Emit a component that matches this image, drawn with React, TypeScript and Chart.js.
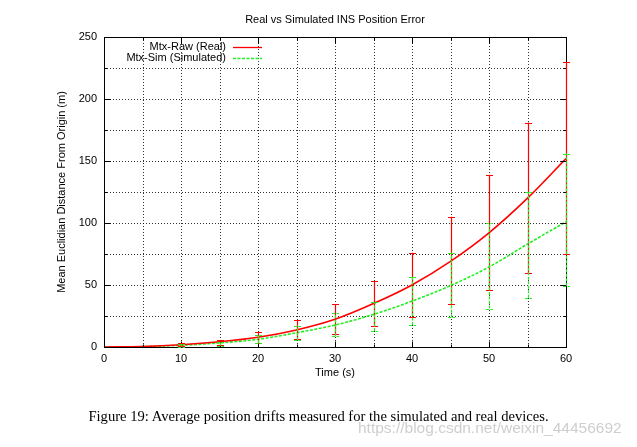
import React, { useEffect, useRef } from "react";
import { Chart, registerables } from "chart.js";

Chart.register(...registerables);

// ---- data ----
const times = [0, 5, 10, 15, 20, 25, 30, 35, 40, 45, 50, 55, 60];
const realMean = [0, 0.4, 1.8, 4.2, 7.8, 13.7, 22.3, 35, 50, 69, 92, 120, 152];
const simMean = [0, 0.3, 1.4, 3.3, 6.2, 11.5, 17.7, 26.3, 37, 49.5, 64.5, 83, 101];

const errTimes = [10, 15, 20, 25, 30, 35, 40, 45, 50, 55, 60];
const realLow = [0.5, 1.8, 3.2, 6.2, 10.2, 16.7, 24.5, 34.7, 46, 59.4, 74.7];
const realHigh = [3, 5.3, 12, 21.5, 34.4, 53.2, 76, 105, 139, 181, 229.5];
const simLow = [0.4, 1, 3, 5.4, 8.6, 12.9, 17.7, 24, 31, 39.8, 49.4];
const simHigh = [2.5, 4, 9.4, 17.2, 27.1, 36, 56.5, 76, 100, 125, 156];

const xMajorTicks = [0, 10, 20, 30, 40, 50, 60];
const xMinorTicks = [5, 15, 25, 35, 45, 55];
const yMajorTicks = [0, 50, 100, 150, 200, 250];
const yMinorTicks = [25, 75, 125, 175, 225];

const seriesLabels = ["Mtx-Raw (Real)", "Mtx-Sim (Simulated)"];
const chartTitle = "Real vs Simulated INS Position Error";
const xTitle = "Time (s)";
const yTitle = "Mean Euclidian Distance From Origin (m)";
const caption = "Figure 19: Average position drifts measured for the simulated and real devices.";
const watermark = "https://blog.csdn.net/weixin_44456692";

const RED = "#ff0000";
const GREEN = "#22ee22";
const GREEN_DASH = [3, 1.5];
const FONT = "'Liberation Sans', Arial, sans-serif";

const gnuplotPlugin = {
  id: "gnuplotPlugin",
  beforeDatasetsDraw(chart: any) {
    const { ctx, chartArea: a, scales } = chart;
    const x = scales.x;
    const y = scales.y;
    ctx.save();
    // title centred over the plot area
    ctx.font = `11px ${FONT}`;
    ctx.fillStyle = "#000";
    ctx.textAlign = "center";
    ctx.textBaseline = "middle";
    ctx.fillText(chartTitle, (a.left + a.right) / 2, 20);

    ctx.strokeStyle = "rgba(0,0,0,0.8)";
    ctx.lineWidth = 1;
    ctx.setLineDash([1, 2]);
    const xs = [...xMajorTicks, ...xMinorTicks].filter((v) => v > 0 && v < 60);
    xs.forEach((v) => {
      const px = Math.round(x.getPixelForValue(v)) + 0.5;
      ctx.beginPath();
      ctx.moveTo(px, a.top);
      ctx.lineTo(px, a.bottom);
      ctx.stroke();
    });
    const ys = [...yMajorTicks, ...yMinorTicks].filter((v) => v > 0 && v < 250);
    ys.forEach((v) => {
      const py = Math.round(y.getPixelForValue(v)) + 0.5;
      ctx.beginPath();
      ctx.moveTo(a.left, py);
      ctx.lineTo(a.right, py);
      ctx.stroke();
    });
    ctx.restore();
  },
  afterDatasetsDraw(chart: any) {
    const { ctx, chartArea: a, scales } = chart;
    const x = scales.x;
    const y = scales.y;

    // border + inward ticks
    ctx.save();
    ctx.strokeStyle = "#000";
    ctx.lineWidth = 1;
    ctx.setLineDash([]);
    const L = Math.round(a.left) + 0.5;
    const R = Math.round(a.right) + 0.5;
    const T = Math.round(a.top) + 0.5;
    const B = Math.round(a.bottom) + 0.5;
    ctx.strokeRect(L, T, R - L, B - T);
    ctx.beginPath();
    const tickX = (vals: number[], len: number) =>
      vals.forEach((v) => {
        const px = Math.round(x.getPixelForValue(v)) + 0.5;
        ctx.moveTo(px, B);
        ctx.lineTo(px, B - len);
        ctx.moveTo(px, T);
        ctx.lineTo(px, T + len);
      });
    const tickY = (vals: number[], len: number) =>
      vals.forEach((v) => {
        const py = Math.round(y.getPixelForValue(v)) + 0.5;
        ctx.moveTo(L, py);
        ctx.lineTo(L + len, py);
        ctx.moveTo(R, py);
        ctx.lineTo(R - len, py);
      });
    tickX(xMajorTicks, 6);
    tickX(xMinorTicks, 3);
    tickY(yMajorTicks, 6);
    tickY(yMinorTicks, 3);
    ctx.stroke();
    ctx.restore();

    const drawErr = (lo: number[], hi: number[], color: string, dash: number[]) => {
      ctx.save();
      ctx.strokeStyle = color;
      ctx.lineWidth = 1.2;
      ctx.setLineDash(dash);
      errTimes.forEach((t, i) => {
        const px = Math.round(x.getPixelForValue(t)) + 0.5;
        const p1 = y.getPixelForValue(lo[i]);
        const p2 = y.getPixelForValue(hi[i]);
        ctx.beginPath();
        ctx.moveTo(px, p1);
        ctx.lineTo(px, p2);
        ctx.moveTo(px - 3.5, Math.round(p1) + 0.5);
        ctx.lineTo(px + 3.5, Math.round(p1) + 0.5);
        ctx.moveTo(px - 3.5, Math.round(p2) + 0.5);
        ctx.lineTo(px + 3.5, Math.round(p2) + 0.5);
        ctx.stroke();
      });
      ctx.restore();
    };
    drawErr(realLow, realHigh, RED, []);
    drawErr(simLow, simHigh, GREEN, GREEN_DASH);

    // legend (gnuplot style, inside top-left)
    ctx.save();
    ctx.font = `11px ${FONT}`;
    ctx.fillStyle = "#000";
    ctx.textAlign = "right";
    ctx.textBaseline = "middle";
    const textRight = a.left + 122;
    const sx1 = a.left + 129;
    const sx2 = a.left + 158;
    const row0 = a.top + 10;
    const rowH = 11;
    [RED, GREEN].forEach((c, i) => {
      const yy = row0 + i * rowH;
      ctx.fillText(seriesLabels[i], textRight, yy);
      ctx.strokeStyle = c;
      ctx.lineWidth = 1.3;
      ctx.setLineDash(i === 0 ? [] : GREEN_DASH);
      ctx.beginPath();
      ctx.moveTo(sx1, Math.round(yy) + 0.5);
      ctx.lineTo(sx2, Math.round(yy) + 0.5);
      ctx.stroke();
    });
    ctx.restore();
  },
};

export default function App() {
  const canvasRef = useRef<HTMLCanvasElement | null>(null);

  useEffect(() => {
    document.body.style.margin = "0";
    const canvas = canvasRef.current;
    if (!canvas) return;
    Chart.defaults.font.family = FONT;
    Chart.defaults.color = "#000";
    const chart = new Chart(canvas, {
      type: "line",
      data: {
        datasets: [
          {
            label: seriesLabels[0],
            data: times.map((t, i) => ({ x: t, y: realMean[i] })),
            borderColor: RED,
            borderWidth: 1.6,
            pointRadius: 0,
            fill: false,
            cubicInterpolationMode: "monotone",
          },
          {
            label: seriesLabels[1],
            data: times.map((t, i) => ({ x: t, y: simMean[i] })),
            borderColor: GREEN,
            borderWidth: 1.6,
            borderDash: GREEN_DASH,
            pointRadius: 0,
            fill: false,
            cubicInterpolationMode: "monotone",
          },
        ],
      },
      options: {
        animation: false,
        responsive: true,
        maintainAspectRatio: false,
        layout: { padding: { left: 0, right: 71, top: 37, bottom: 60 } },
        plugins: {
          legend: { display: false },
          tooltip: { enabled: false },
          title: { display: false },
        },
        scales: {
          x: {
            type: "linear",
            min: 0,
            max: 60,
            afterFit: (s: any) => {
              s.height = 40;
            },
            ticks: { stepSize: 10, font: { size: 11 }, color: "#000", padding: 5, maxRotation: 0 },
            grid: { display: false, drawTicks: false },
            border: { display: false },
            title: {
              display: true,
              text: xTitle,
              color: "#000",
              font: { size: 11 },
              padding: { top: 0, bottom: 7.4 },
            },
          },
          y: {
            type: "linear",
            min: 0,
            max: 250,
            afterFit: (s: any) => {
              s.width = 104;
            },
            ticks: { stepSize: 50, font: { size: 11 }, color: "#000", padding: 7 },
            grid: { display: false, drawTicks: false },
            border: { display: false },
            title: {
              display: true,
              text: yTitle,
              color: "#000",
              font: { size: 11 },
              padding: { top: 55.4, bottom: 0 },
            },
          },
        },
      },
      plugins: [gnuplotPlugin],
    } as any);
    return () => chart.destroy();
  }, []);

  return (
    <div style={{ position: "relative", width: 637, height: 447, background: "#fff", overflow: "hidden" }}>
      <canvas ref={canvasRef} />
      <div
        style={{
          position: "absolute",
          left: 0,
          top: 408,
          width: 637,
          textAlign: "center",
          fontFamily: "'Liberation Serif', 'Times New Roman', serif",
          fontSize: 14.6,
          lineHeight: "16px",
          color: "#000",
          whiteSpace: "nowrap",
        }}
      >
        {caption}
      </div>
      <div
        style={{
          position: "absolute",
          left: 358,
          top: 419,
          fontFamily: FONT,
          fontSize: 15.5,
          lineHeight: "18px",
          color: "rgba(190,190,190,0.75)",
          whiteSpace: "nowrap",
        }}
      >
        {watermark}
      </div>
    </div>
  );
}
